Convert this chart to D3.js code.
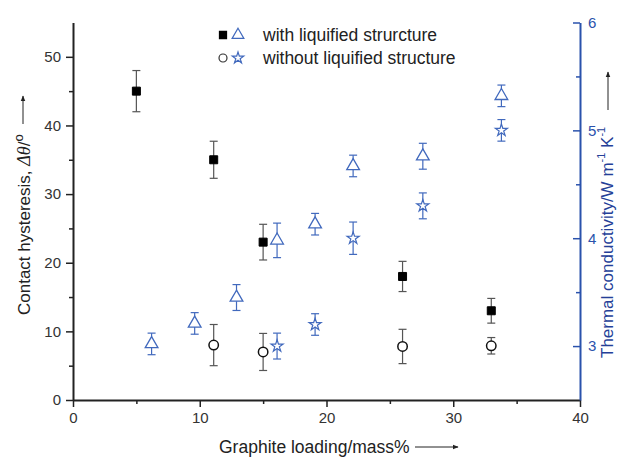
<!DOCTYPE html>
<html>
<head>
<meta charset="utf-8">
<script src="https://cdn.jsdelivr.net/npm/d3@7"></script>
<style>
  body { margin: 0; background: #fff; }
  text { font-family: "Liberation Sans", Arial, sans-serif; }
</style>
</head>
<body>
<svg id="chart" width="619" height="457"></svg>
<script>
// filled squares: contact hysteresis, with liquified structure
const loadSq = [5, 11.1, 15, 26, 33];
const hystWith = [45, 35, 23, 18, 13];
const hystWithErr = [3, 2.7, 2.6, 2.2, 1.8];

// open circles: contact hysteresis, without liquified structure
const loadCirc = [11.1, 15, 26, 33];
const hystWithout = [8, 7, 7.8, 7.9];
const hystWithoutErr = [3, 2.7, 2.5, 1.2];

// open triangles: thermal conductivity, with liquified structure
const loadTri = [6.2, 9.6, 12.9, 16.1, 19.1, 22.1, 27.6, 33.8];
const condWith = [3.02, 3.21, 3.45, 3.98, 4.13, 4.67, 4.76, 5.32];
const condWithErr = [0.1, 0.1, 0.12, 0.16, 0.1, 0.1, 0.12, 0.1];

// open stars: thermal conductivity, without liquified structure
const loadStar = [16.1, 19.1, 22.1, 27.6, 33.8];
const condWithout = [3.0, 3.2, 4.0, 4.3, 5.0];
const condWithoutErr = [0.12, 0.1, 0.15, 0.12, 0.1];

const xTicks = [0, 10, 20, 30, 40];
const yLeftTicks = [0, 10, 20, 30, 40, 50];
const yRightTicks = [3, 4, 5, 6];
const legendLabels = ["with liquified strurcture", "without liquified structure"];

const blue = "#4169bd", axisBlue = "#2a52ac", titleBlue = "#253f98";

const svg = d3.select("#chart"),
      margin = { top: 22.5, right: 39, bottom: 57, left: 73 },
      width = +svg.attr("width") - margin.left - margin.right,
      height = +svg.attr("height") - margin.top - margin.bottom;

const g = svg.append("g").attr("transform", `translate(${margin.left},${margin.top})`);

const x = d3.scaleLinear().domain([0, 40]).range([0, width]);
const yL = d3.scaleLinear().domain([0, 55]).range([height, 0]);
const yR = d3.scaleLinear().domain([2.5, 6]).range([height, 0]);

// minor ticks
g.append("g")
  .attr("transform", `translate(0,${height})`)
  .call(d3.axisBottom(x).tickValues([5, 15, 25, 35]).tickSize(4).tickSizeOuter(0).tickFormat(""))
  .call(a => a.select(".domain").remove())
  .selectAll("line").attr("stroke", "#222").attr("stroke-width", 1.5);
g.append("g")
  .call(d3.axisLeft(yL).tickValues([5, 15, 25, 35, 45]).tickSize(4).tickSizeOuter(0).tickFormat(""))
  .call(a => a.select(".domain").remove())
  .selectAll("line").attr("stroke", "#222").attr("stroke-width", 1.5);
g.append("g")
  .attr("transform", `translate(${width},0)`)
  .call(d3.axisRight(yR).tickValues([3.5, 4.5, 5.5]).tickSize(-4).tickSizeOuter(0).tickFormat(""))
  .call(a => a.select(".domain").remove())
  .selectAll("line").attr("stroke", axisBlue).attr("stroke-width", 1.5);

// X Axis
const xAxis = g.append("g")
  .attr("transform", `translate(0,${height})`)
  .call(d3.axisBottom(x).tickValues(xTicks).tickSize(7).tickSizeOuter(0).tickPadding(5));
xAxis.select(".domain").attr("stroke", "#222").attr("stroke-width", 2);
xAxis.selectAll("line").attr("stroke", "#222").attr("stroke-width", 1.5);
xAxis.selectAll("text").attr("font-size", 15).attr("fill", "#333").style("font-family", "Liberation Sans, Arial, sans-serif");

// Left Y Axis
const yAxisL = g.append("g")
  .call(d3.axisLeft(yL).tickValues(yLeftTicks).tickSize(7).tickSizeOuter(0).tickPadding(5));
yAxisL.select(".domain").attr("stroke", "#222").attr("stroke-width", 2);
yAxisL.selectAll("line").attr("stroke", "#222").attr("stroke-width", 1.5);
yAxisL.selectAll("text").attr("font-size", 15).attr("fill", "#333").style("font-family", "Liberation Sans, Arial, sans-serif");

// Right Y Axis (ticks point inward)
const yAxisR = g.append("g")
  .attr("transform", `translate(${width},0)`)
  .call(d3.axisRight(yR).tickValues(yRightTicks).tickFormat(d3.format("d")).tickSize(-7).tickSizeOuter(0).tickPadding(8));
yAxisR.select(".domain").attr("stroke", axisBlue).attr("stroke-width", 2);
yAxisR.selectAll("line").attr("stroke", axisBlue).attr("stroke-width", 1.5);
yAxisR.selectAll("text").attr("font-size", 15).attr("fill", axisBlue).style("font-family", "Liberation Sans, Arial, sans-serif");

// error bars
function errorBars(xs, ys, es, yScale, color) {
  const rows = xs.map((v, i) => ({ x: v, y: ys[i], e: es[i] }));
  const eg = g.append("g").attr("stroke", color).attr("stroke-width", 1.2).attr("fill", "none");
  eg.selectAll(".v").data(rows).enter().append("line")
    .attr("x1", d => x(d.x)).attr("x2", d => x(d.x))
    .attr("y1", d => yScale(d.y - d.e)).attr("y2", d => yScale(d.y + d.e));
  ["-", "+"].forEach(s => {
    eg.selectAll(".c" + (s === "+" ? "p" : "m")).data(rows).enter().append("line")
      .attr("x1", d => x(d.x) - 4).attr("x2", d => x(d.x) + 4)
      .attr("y1", d => yScale(s === "+" ? d.y + d.e : d.y - d.e))
      .attr("y2", d => yScale(s === "+" ? d.y + d.e : d.y - d.e));
  });
}
errorBars(loadSq, hystWith, hystWithErr, yL, "#555");
errorBars(loadCirc, hystWithout, hystWithoutErr, yL, "#555");
errorBars(loadTri, condWith, condWithErr, yR, blue);
errorBars(loadStar, condWithout, condWithoutErr, yR, blue);

// markers
function points(xs, ys, yScale, type, size, fill, stroke, sw) {
  g.append("g").selectAll("path")
    .data(xs.map((v, i) => [v, ys[i]]))
    .enter().append("path")
    .attr("d", d3.symbol().type(type).size(size))
    .attr("transform", d => `translate(${x(d[0])},${yScale(d[1])})`)
    .attr("fill", fill).attr("stroke", stroke).attr("stroke-width", sw);
}
points(loadSq, hystWith, yL, d3.symbolSquare, 64, "#000", "#000", 1);
points(loadCirc, hystWithout, yL, d3.symbolCircle, 70, "#fff", "#111", 1.5);
points(loadTri, condWith, yR, d3.symbolTriangle, 70, "#fff", blue, 1.3);
points(loadStar, condWithout, yR, d3.symbolStar, 45, "#fff", blue, 1.2);

// legend
const leg = svg.append("g");
const legRows = [
  { y: 35, a: [d3.symbolSquare, 50, "#000", "#000"], b: [d3.symbolTriangle, 60, "#fff", blue] },
  { y: 58, a: [d3.symbolCircle, 50, "#fff", "#333"], b: [d3.symbolStar, 40, "#fff", blue] }
];
legRows.forEach((r, i) => {
  leg.append("path").attr("d", d3.symbol().type(r.a[0]).size(r.a[1]))
    .attr("transform", `translate(223,${r.y})`).attr("fill", r.a[2]).attr("stroke", r.a[3]).attr("stroke-width", 1.2);
  leg.append("path").attr("d", d3.symbol().type(r.b[0]).size(r.b[1]))
    .attr("transform", `translate(238,${r.y})`).attr("fill", r.b[2]).attr("stroke", r.b[3]).attr("stroke-width", 1.2);
  leg.append("text").attr("x", 263).attr("y", r.y + 6).attr("font-size", 17.5).attr("fill", "#222")
    .text(legendLabels[i]);
});

// arrow marker
const defs = svg.append("defs");
[["ahBlack", "#222"]].forEach(([id, c]) => {
  defs.append("marker").attr("id", id).attr("viewBox", "0 0 10 10").attr("refX", 9).attr("refY", 5)
    .attr("markerWidth", 6).attr("markerHeight", 6).attr("orient", "auto")
    .append("path").attr("d", "M0,1L10,5L0,9Z").attr("fill", c);
});

// X title
svg.append("text").attr("x", 219).attr("y", 453).attr("font-size", 17.5).attr("fill", "#222")
  .text("Graphite loading/mass%");
svg.append("line").attr("x1", 415).attr("x2", 458).attr("y1", 447).attr("y2", 447)
  .attr("stroke", "#222").attr("stroke-width", 1).attr("marker-end", "url(#ahBlack)");

// left Y title
const lt = svg.append("text").attr("transform", "translate(30,315) rotate(-90)")
  .attr("font-size", 17).attr("fill", "#222");
lt.append("tspan").text("Contact hysteresis, ");
lt.append("tspan").attr("font-style", "italic").attr("font-size", 18).style("font-family", "Liberation Serif, serif").text("Δθ");
lt.append("tspan").text("/");
lt.append("tspan").attr("dy", -7).attr("font-size", 13).text("o");
svg.append("line").attr("x1", 23).attr("x2", 23).attr("y1", 124).attr("y2", 96)
  .attr("stroke", "#222").attr("stroke-width", 1).attr("marker-end", "url(#ahBlack)");

// right Y title
const rt = svg.append("text").attr("transform", "translate(613,358) rotate(-90)")
  .attr("font-size", 17).attr("fill", titleBlue);
rt.append("tspan").text("Thermal conductivity/W m");
rt.append("tspan").attr("dy", -8).attr("font-size", 11).text("-1");
rt.append("tspan").attr("dy", 8).text(" K");
rt.append("tspan").attr("dy", -8).attr("font-size", 11).text("-1");
svg.append("line").attr("x1", 608).attr("x2", 608).attr("y1", 110).attr("y2", 72)
  .attr("stroke", "#222").attr("stroke-width", 1).attr("marker-end", "url(#ahBlack)");
</script>
</body>
</html>
